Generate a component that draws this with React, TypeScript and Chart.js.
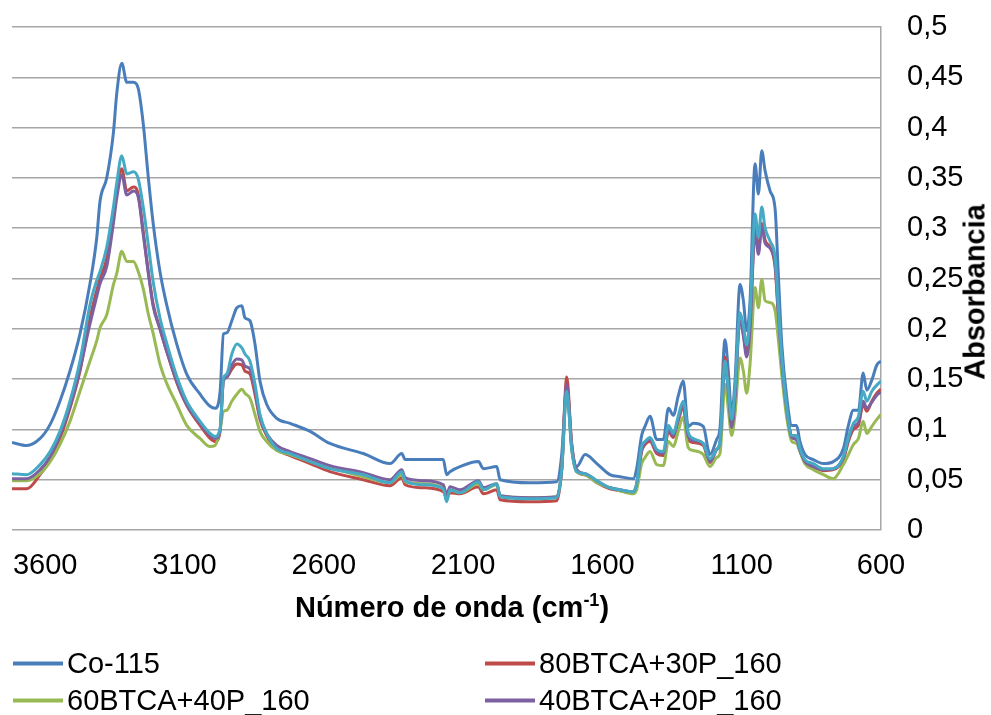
import React, { useEffect, useRef } from "react";
import { Chart, registerables } from "chart.js";

Chart.register(...registerables);

const wavenumbers = [3719, 3666, 3618, 3582, 3547, 3511, 3475, 3439, 3415, 3403, 3379, 3355, 3343, 3325, 3307, 3283, 3266, 3248, 3230, 3212, 3188, 3164, 3128, 3092, 3044, 3008, 2990, 2972, 2960, 2948, 2930, 2912, 2894, 2883, 2865, 2847, 2829, 2805, 2769, 2721, 2649, 2578, 2458, 2362, 2320, 2308, 2243, 2171, 2159, 2147, 2111, 2045, 2027, 1979, 1967, 1860, 1764, 1746, 1728, 1710, 1692, 1662, 1620, 1573, 1537, 1489, 1477, 1459, 1447, 1429, 1405, 1381, 1363, 1345, 1328, 1310, 1292, 1274, 1238, 1214, 1190, 1178, 1160, 1148, 1136, 1124, 1106, 1094, 1082, 1070, 1052, 1040, 1028, 1016, 998, 980, 969, 956, 938, 920, 903, 891, 873, 843, 807, 771, 735, 717, 699, 681, 664, 651, 633, 615, 600];

const co115 = [0.087, 0.084, 0.091, 0.105, 0.128, 0.158, 0.195, 0.245, 0.29, 0.327, 0.35, 0.395, 0.434, 0.464, 0.445, 0.445, 0.439, 0.404, 0.351, 0.304, 0.257, 0.224, 0.185, 0.155, 0.135, 0.123, 0.121, 0.138, 0.195, 0.196, 0.208, 0.221, 0.223, 0.211, 0.208, 0.185, 0.148, 0.125, 0.111, 0.106, 0.098, 0.086, 0.076, 0.066, 0.076, 0.07, 0.07, 0.07, 0.055, 0.058, 0.063, 0.068, 0.061, 0.063, 0.05, 0.047, 0.048, 0.075, 0.142, 0.085, 0.063, 0.075, 0.066, 0.055, 0.053, 0.051, 0.061, 0.094, 0.103, 0.113, 0.09, 0.09, 0.121, 0.114, 0.133, 0.148, 0.103, 0.106, 0.103, 0.075, 0.09, 0.101, 0.189, 0.158, 0.116, 0.148, 0.244, 0.228, 0.198, 0.228, 0.364, 0.334, 0.377, 0.357, 0.337, 0.319, 0.257, 0.184, 0.131, 0.104, 0.104, 0.088, 0.075, 0.07, 0.066, 0.068, 0.081, 0.104, 0.119, 0.119, 0.156, 0.139, 0.149, 0.164, 0.168];

const btca80p30 = [0.041, 0.041, 0.055, 0.07, 0.091, 0.121, 0.158, 0.211, 0.238, 0.25, 0.27, 0.315, 0.337, 0.359, 0.337, 0.341, 0.334, 0.297, 0.257, 0.224, 0.2, 0.178, 0.147, 0.124, 0.104, 0.091, 0.088, 0.098, 0.15, 0.152, 0.16, 0.165, 0.164, 0.158, 0.155, 0.135, 0.11, 0.094, 0.08, 0.074, 0.066, 0.058, 0.05, 0.044, 0.052, 0.045, 0.042, 0.038, 0.032, 0.037, 0.036, 0.043, 0.036, 0.04, 0.03, 0.028, 0.029, 0.06, 0.152, 0.085, 0.058, 0.055, 0.047, 0.041, 0.039, 0.037, 0.044, 0.078, 0.085, 0.088, 0.076, 0.074, 0.098, 0.092, 0.108, 0.122, 0.09, 0.087, 0.084, 0.067, 0.08, 0.085, 0.172, 0.14, 0.103, 0.135, 0.214, 0.195, 0.176, 0.205, 0.3, 0.277, 0.305, 0.288, 0.281, 0.261, 0.215, 0.165, 0.118, 0.092, 0.09, 0.079, 0.068, 0.063, 0.059, 0.06, 0.07, 0.088, 0.1, 0.104, 0.125, 0.118, 0.128, 0.136, 0.14];

const btca60p40 = [0.049, 0.049, 0.056, 0.068, 0.085, 0.108, 0.138, 0.168, 0.188, 0.201, 0.214, 0.244, 0.255, 0.277, 0.267, 0.267, 0.257, 0.24, 0.215, 0.195, 0.165, 0.146, 0.125, 0.104, 0.091, 0.083, 0.084, 0.1, 0.118, 0.119, 0.128, 0.135, 0.14, 0.136, 0.131, 0.115, 0.098, 0.088, 0.079, 0.075, 0.068, 0.062, 0.053, 0.047, 0.055, 0.048, 0.046, 0.042, 0.03, 0.04, 0.037, 0.046, 0.04, 0.045, 0.034, 0.032, 0.033, 0.06, 0.14, 0.08, 0.058, 0.055, 0.047, 0.042, 0.039, 0.036, 0.04, 0.066, 0.072, 0.078, 0.065, 0.064, 0.088, 0.083, 0.098, 0.112, 0.082, 0.079, 0.075, 0.063, 0.072, 0.076, 0.145, 0.12, 0.094, 0.115, 0.171, 0.158, 0.136, 0.165, 0.241, 0.221, 0.249, 0.228, 0.226, 0.218, 0.191, 0.154, 0.111, 0.088, 0.086, 0.078, 0.066, 0.06, 0.055, 0.051, 0.065, 0.075, 0.085, 0.091, 0.108, 0.096, 0.103, 0.11, 0.115];

const btca40p20 = [0.051, 0.051, 0.06, 0.073, 0.094, 0.123, 0.16, 0.205, 0.232, 0.245, 0.262, 0.305, 0.33, 0.353, 0.333, 0.337, 0.331, 0.294, 0.256, 0.222, 0.2, 0.178, 0.148, 0.125, 0.106, 0.094, 0.091, 0.1, 0.148, 0.152, 0.164, 0.17, 0.169, 0.163, 0.16, 0.14, 0.112, 0.096, 0.084, 0.078, 0.071, 0.064, 0.057, 0.05, 0.06, 0.052, 0.049, 0.045, 0.035, 0.043, 0.04, 0.049, 0.042, 0.046, 0.034, 0.032, 0.033, 0.06, 0.145, 0.082, 0.06, 0.056, 0.049, 0.042, 0.04, 0.038, 0.046, 0.08, 0.087, 0.09, 0.078, 0.076, 0.1, 0.094, 0.11, 0.124, 0.093, 0.089, 0.086, 0.068, 0.08, 0.087, 0.165, 0.137, 0.102, 0.13, 0.211, 0.193, 0.172, 0.2, 0.297, 0.274, 0.302, 0.285, 0.28, 0.264, 0.217, 0.166, 0.119, 0.092, 0.09, 0.079, 0.068, 0.063, 0.06, 0.061, 0.072, 0.091, 0.103, 0.107, 0.128, 0.121, 0.127, 0.134, 0.137];

const series5 = [0.056, 0.055, 0.065, 0.078, 0.098, 0.128, 0.168, 0.224, 0.248, 0.257, 0.281, 0.321, 0.345, 0.372, 0.354, 0.356, 0.349, 0.321, 0.284, 0.246, 0.211, 0.186, 0.153, 0.128, 0.108, 0.096, 0.093, 0.101, 0.151, 0.155, 0.175, 0.185, 0.181, 0.175, 0.168, 0.145, 0.115, 0.096, 0.081, 0.076, 0.068, 0.061, 0.055, 0.047, 0.058, 0.049, 0.045, 0.041, 0.028, 0.04, 0.037, 0.048, 0.04, 0.046, 0.033, 0.031, 0.032, 0.06, 0.138, 0.08, 0.058, 0.056, 0.049, 0.042, 0.04, 0.038, 0.046, 0.083, 0.088, 0.092, 0.08, 0.078, 0.104, 0.096, 0.113, 0.128, 0.097, 0.091, 0.086, 0.071, 0.08, 0.088, 0.168, 0.14, 0.11, 0.14, 0.216, 0.203, 0.184, 0.215, 0.314, 0.291, 0.321, 0.3, 0.287, 0.271, 0.225, 0.171, 0.121, 0.094, 0.094, 0.081, 0.07, 0.066, 0.061, 0.061, 0.073, 0.092, 0.106, 0.113, 0.138, 0.128, 0.138, 0.144, 0.148];

const xTickValues = [3600, 3100, 2600, 2100, 1600, 1100, 600];
const yTickValues = [0, 0.05, 0.1, 0.15, 0.2, 0.25, 0.3, 0.35, 0.4, 0.45, 0.5];

const seriesNames = ["Co-115", "80BTCA+30P_160", "60BTCA+40P_160", "40BTCA+20P_160", "Serie 5"];
const seriesColors = ["#4A7EBB", "#BE4B48", "#98B954", "#7D60A0", "#46AAC5"];
const seriesValues = [co115, btca80p30, btca60p40, btca40p20, series5];

const FONT = "'Liberation Sans', Arial, sans-serif";

export default function App() {
  const ref = useRef<HTMLCanvasElement | null>(null);

  useEffect(() => {
    if (!ref.current) return;
    const datasets = seriesValues.map((vals, i) => ({
      label: seriesNames[i],
      data: wavenumbers.map((w, j) => ({ x: w, y: vals[j] })),
      borderColor: seriesColors[i],
      backgroundColor: seriesColors[i],
      borderWidth: 3,
      pointRadius: 0,
      cubicInterpolationMode: "monotone" as const,
      fill: false,
      order: seriesValues.length - i,
    }));
    const chart = new Chart(ref.current, {
      type: "line",
      data: { datasets },
      options: {
        animation: false,
        responsive: false,
        devicePixelRatio: 1,
        layout: { padding: { left: 12, top: 27, right: 0, bottom: 0 } },
        plugins: { legend: { display: false }, tooltip: { enabled: false } },
        scales: {
          x: {
            type: "linear",
            reverse: true,
            min: 600,
            max: 3719,
            afterBuildTicks: (s: any) => {
              s.ticks = xTickValues.map((v) => ({ value: v }));
            },
            afterFit: (s: any) => {
              s.height = 185;
              s.paddingLeft = 0;
              s.paddingRight = 0;
            },
            grid: { display: false, drawTicks: false },
            border: { display: false },
            ticks: {
              color: "#000",
              font: { family: FONT, size: 29 },
              padding: 19,
              maxRotation: 0,
              autoSkip: false,
              callback: (v: any) => String(v),
            },
          },
          y: {
            type: "linear",
            position: "right",
            min: 0,
            max: 0.5,
            afterBuildTicks: (s: any) => {
              s.ticks = yTickValues.map((v) => ({ value: v }));
            },
            afterFit: (s: any) => {
              s.width = 991 - 881;
              s.paddingTop = 0;
              s.paddingBottom = 0;
            },
            grid: { color: "#A6A6A6", lineWidth: 1.5, drawTicks: false },
            border: { display: true, color: "#A6A6A6", width: 1.5 },
            ticks: {
              color: "#000",
              font: { family: FONT, size: 29 },
              padding: 26,
              callback: (v: any) => Number(Number(v).toFixed(2)).toString().replace(".", ","),
            },
          },
        },
      },
    });
    return () => chart.destroy();
  }, []);

  const legendItems = [
    { name: seriesNames[0], color: seriesColors[0], left: 13, top: 663 },
    { name: seriesNames[1], color: seriesColors[1], left: 485, top: 663 },
    { name: seriesNames[2], color: seriesColors[2], left: 13, top: 700 },
    { name: seriesNames[3], color: seriesColors[3], left: 485, top: 700 },
  ];

  return (
    <div style={{ position: "absolute", left: 0, top: 0, width: 991, height: 715, overflow: "hidden", background: "#fff", fontFamily: FONT }}>
      <canvas ref={ref} width={991} height={715} style={{ position: "absolute", left: 0, top: 0, width: 991, height: 715 }} />
      <div style={{ position: "absolute", left: 452, top: 607, transform: "translate(-50%, -50%)", fontWeight: "bold", fontSize: 29, whiteSpace: "nowrap", color: "#000", lineHeight: 1 }}>
        Número de onda (cm<sup style={{ fontSize: 18, verticalAlign: "top", position: "relative", top: -2 }}>-1</sup>)
      </div>
      <div style={{ position: "absolute", left: 975, top: 292, transform: "translate(-50%, -50%) rotate(-90deg)", fontWeight: "bold", fontSize: 29, whiteSpace: "nowrap", color: "#000", lineHeight: 1 }}>
        Absorbancia
      </div>
      {legendItems.map((it) => (
        <div key={it.name} style={{ position: "absolute", left: it.left, top: it.top, transform: "translateY(-50%)", display: "flex", alignItems: "center", whiteSpace: "nowrap", fontSize: 29, color: "#000", lineHeight: 1 }}>
          <span style={{ display: "inline-block", width: 50, height: 4, background: it.color, marginRight: 4 }} />
          <span>{it.name}</span>
        </div>
      ))}
    </div>
  );
}
